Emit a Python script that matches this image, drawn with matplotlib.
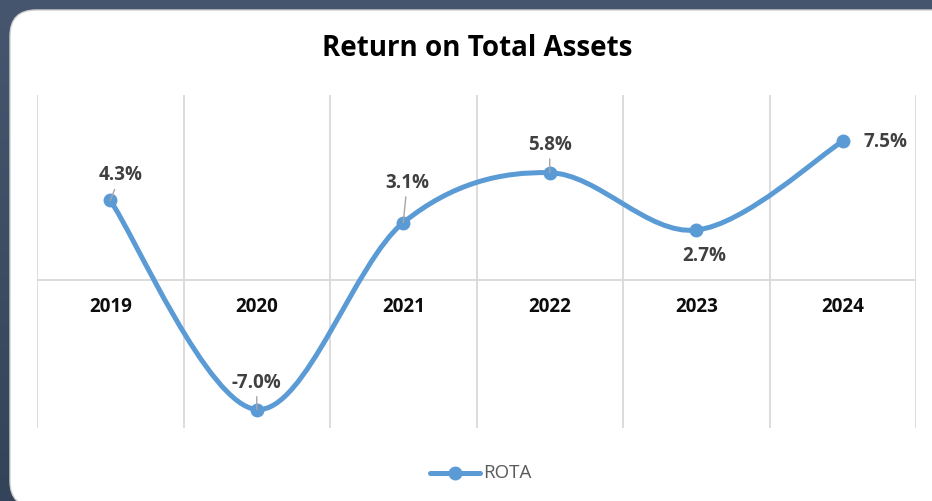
import matplotlib
matplotlib.use("Agg")
import matplotlib.pyplot as plt
from matplotlib.path import Path
from matplotlib.patches import PathPatch, FancyBboxPatch
from matplotlib.lines import Line2D
from matplotlib.transforms import IdentityTransform
from matplotlib.colors import LinearSegmentedColormap
import numpy as np

years = ["2019", "2020", "2021", "2022", "2023", "2024"]
rota = [4.3, -7.0, 3.1, 5.8, 2.7, 7.5]
labels = ["4.3%", "-7.0%", "3.1%", "5.8%", "2.7%", "7.5%"]

plt.rcParams['font.family'] = ['Open Sans', 'DejaVu Sans']

W, H = 932, 501
fig = plt.figure(figsize=(W/100, H/100), dpi=100, facecolor="#44546a")

# darker gradient toward bottom of the background
bg = fig.add_axes([0, 0, 1, 1], zorder=-5)
bg.axis("off")
grad = np.linspace(0, 1, 256).reshape(-1, 1)
cmap = LinearSegmentedColormap.from_list("bgc", ["#33445a", "#46566e"])
bg.imshow(grad, aspect="auto", cmap=cmap, extent=[0, 1, 0, 1], origin="lower")

# white rounded panel (pixel coordinates)
panel = FancyBboxPatch((10, -6), 960, H - 10 + 6, boxstyle="round,pad=0,rounding_size=26",
                       transform=IdentityTransform(), facecolor="white",
                       edgecolor="#d0d0d0", linewidth=1.0, zorder=0)
fig.patches.append(panel)

# axes
l, r, t, b = 37, 916, 95, 428
ax = fig.add_axes([l/W, 1 - b/H, (r - l)/W, (b - t)/H])
ax.set_zorder(2)
ax.set_facecolor("none")
n = len(years)
x = np.arange(n)
ax.set_xlim(-0.5, n - 0.5)
ax.set_ylim(-8, 10)
for s in ax.spines.values():
    s.set_visible(False)
ax.set_xticks([])
ax.set_yticks([])
grid_c = "#d9d9d9"
for xv in np.arange(-0.5, n, 1.0):
    ax.axvline(xv, color=grid_c, lw=1.3, zorder=1)
ax.axhline(0, color=grid_c, lw=1.3, zorder=1)

# smooth curve (Catmull-Rom -> cubic Bezier)
ys = np.array(rota, dtype=float)
xs = x.astype(float)
verts = [(xs[0], ys[0])]
codes = [Path.MOVETO]
for i in range(n - 1):
    p0 = (xs[max(i - 1, 0)], ys[max(i - 1, 0)])
    p1 = (xs[i], ys[i])
    p2 = (xs[i + 1], ys[i + 1])
    p3 = (xs[min(i + 2, n - 1)], ys[min(i + 2, n - 1)])
    c1 = (p1[0] + (p2[0] - p0[0]) / 6, p1[1] + (p2[1] - p0[1]) / 6)
    c2 = (p2[0] - (p3[0] - p1[0]) / 6, p2[1] - (p3[1] - p1[1]) / 6)
    verts += [c1, c2, p2]
    codes += [Path.CURVE4] * 3
line_c = "#5b9bd5"
ax.add_patch(PathPatch(Path(verts, codes), facecolor="none", edgecolor=line_c,
                       lw=3.6, capstyle="round", joinstyle="round", zorder=3))
ax.plot(xs, ys, linestyle="none", marker="o", markersize=9, color=line_c, zorder=4)

# category labels
for i, yr in enumerate(years):
    ax.annotate(yr, (i, 0), xytext=(0, -27), textcoords="offset pixels",
                ha="center", va="center", fontsize=13.5, fontweight="bold", color="#0d0d0d")

# data labels
offsets = [(10, 25), (0, 27), (4, 40), (0, 28), (8, -26), (43, -1)]
leader = [True, True, True, True, False, False]
for i, (lab, off, ld) in enumerate(zip(labels, offsets, leader)):
    kw = {}
    if ld:
        kw["arrowprops"] = dict(arrowstyle="-", color="#a6a6a6", lw=1.0, shrinkA=1, shrinkB=0)
    ax.annotate(lab, (i, rota[i]), xytext=off, textcoords="offset pixels",
                ha="center", va="center", fontsize=13.5, fontweight="bold", color="#404040",
                zorder=5, **kw)

# title
fig.text(477/W, 1 - 48/H, "Return on Total Assets", ha="center", va="center",
         fontsize=20, fontweight="bold", color="#000000")

# legend
leg_y = 1 - 473/H
fig.add_artist(Line2D([430/W, 480/W], [leg_y, leg_y], color=line_c, lw=3.6,
                      solid_capstyle="round", transform=fig.transFigure))
fig.add_artist(Line2D([455/W], [leg_y], marker="o", markersize=9, color=line_c,
                      transform=fig.transFigure))
fig.text(483/W, leg_y, "ROTA", ha="left", va="center", fontsize=13.5, color="#595959")

fig.savefig("out.png", dpi=100, facecolor=fig.get_facecolor())
